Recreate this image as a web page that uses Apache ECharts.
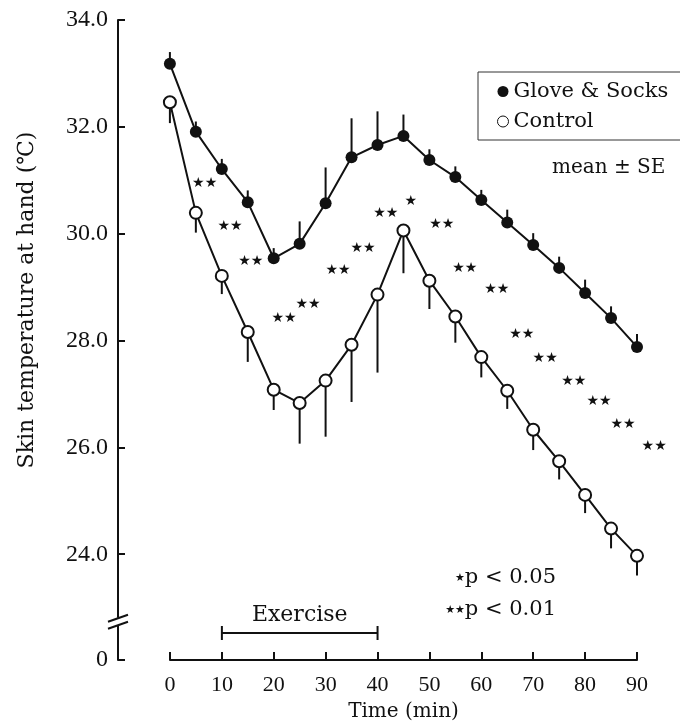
<!DOCTYPE html>
<html>
<head>
<meta charset="utf-8">
<script src="https://cdn.jsdelivr.net/npm/echarts@6.0.0/dist/echarts.min.js"></script>
<style>
html,body{margin:0;padding:0;background:#fff}
#main{width:680px;height:728px}
</style>
</head>
<body>
<div id="main"></div>
<script>
// time points (min)
var times = [0,5,10,15,20,25,30,35,40,45,50,55,60,65,70,75,80,85,90];
// skin temperature at hand, mean and SE
var glove   = [33.18,31.91,31.21,30.59,29.54,29.81,30.57,31.43,31.66,31.83,31.38,31.06,30.63,30.21,29.79,29.36,28.89,28.42,27.88];
var gloveSE = [0.22,0.19,0.19,0.22,0.19,0.42,0.67,0.73,0.63,0.40,0.20,0.20,0.19,0.24,0.22,0.21,0.25,0.22,0.24];
var control   = [32.46,30.39,29.21,28.16,27.08,26.83,27.25,27.92,28.86,30.06,29.12,28.45,27.69,27.06,26.33,25.74,25.11,24.48,23.97];
var controlSE = [0.39,0.37,0.34,0.56,0.38,0.76,1.05,1.07,1.46,0.80,0.53,0.49,0.38,0.34,0.38,0.34,0.34,0.37,0.37];
// significance marks (time, temperature, number of stars)
var starTime  = [6.7,11.6,15.6,22.0,26.6,32.4,37.2,41.6,46.4,52.4,56.8,63.0,67.8,72.3,77.8,82.7,87.3,93.3];
var starTemp  = [30.95,30.13,29.48,28.42,28.68,29.31,29.73,30.38,30.60,30.18,29.35,28.95,28.12,27.67,27.24,26.86,26.44,26.01];
var starCount = [2,2,2,2,2,2,2,2,1,2,2,2,2,2,2,2,2,2];
// exercise period (min)
var exercise = [10, 40];
// axes
var xMin = 0, xMax = 90, xStep = 10;
var yMin = 0, yMax = 34, yStep = 2;
var yTicks = [0, 24, 26, 28, 30, 32, 34];
var yBreak = [0.65, 22.8];

var serif = 'DejaVu Serif';
var numFont = 'Liberation Serif';
var ink = '#111';

function pairs(v) {
    return times.map(function (t, i) { return [t, v[i]]; });
}
function errData(v, se, dir) {
    return times.map(function (t, i) { return [t, v[i], v[i] + dir * se[i]]; });
}
function errBar(params, api) {
    var a = api.coord([api.value(0), api.value(1)]);
    var b = api.coord([api.value(0), api.value(2)]);
    return {type: 'line', shape: {x1: a[0], y1: a[1], x2: b[0], y2: b[1]},
        style: {stroke: ink, lineWidth: 2}};
}

var chart = echarts.init(document.getElementById('main'));

var option = {
    animation: false,
    backgroundColor: '#fff',
    grid: [
        {left: 118, right: 43, top: 20, bottom: 68},
        {left: 170, right: 43, top: 600, bottom: 68}
    ],
    legend: {
        orient: 'vertical',
        left: 478,
        top: 72,
        padding: [9, 24, 8, 19],
        itemGap: 9,
        itemWidth: 11,
        itemHeight: 11,
        borderColor: '#333',
        borderWidth: 1,
        textStyle: {fontFamily: serif, fontSize: 21, color: ink},
        data: [
            {name: 'Glove & Socks', icon: 'circle'},
            {name: 'Control', icon: 'circle',
                itemStyle: {color: '#fff', borderColor: ink, borderWidth: 1}}
        ]
    },
    xAxis: [
        {gridIndex: 0, type: 'value', min: -10, max: xMax, show: false},
        {
            gridIndex: 1, type: 'value', min: xMin, max: xMax, interval: xStep,
            axisLine: {onZero: false, lineStyle: {color: ink, width: 2}},
            axisTick: {inside: true, length: 8, lineStyle: {color: ink, width: 2}},
            splitLine: {show: false},
            axisLabel: {fontFamily: numFont, fontSize: 22, color: ink, margin: 14},
            name: 'Time (min)',
            nameLocation: 'middle',
            nameGap: 42,
            nameTextStyle: {fontFamily: serif, fontSize: 20, color: ink}
        }
    ],
    yAxis: [
        {
            gridIndex: 0, type: 'value', min: yMin, max: yMax, interval: yStep,
            breaks: [{start: yBreak[0], end: yBreak[1], gap: 0.13}],
            breakArea: {show: false},
            axisLine: {onZero: false, lineStyle: {color: ink, width: 2}},
            axisTick: {inside: true, length: 7, customValues: yTicks,
                lineStyle: {color: ink, width: 2}},
            splitLine: {show: false},
            axisLabel: {
                fontFamily: numFont, fontSize: 24, color: ink, margin: 10,
                customValues: yTicks,
                formatter: function (v) {
                    return v === 0 ? '0' : v.toFixed(1);
                }
            }
        },
        {gridIndex: 1, type: 'value', min: 0, max: 1, show: false}
    ],
    series: [
        {
            type: 'custom', name: 'gloveErr', xAxisIndex: 0, yAxisIndex: 0, z: 2,
            renderItem: errBar, data: errData(glove, gloveSE, 1)
        },
        {
            type: 'custom', name: 'controlErr', xAxisIndex: 0, yAxisIndex: 0, z: 2,
            renderItem: errBar, data: errData(control, controlSE, -1)
        },
        {
            name: 'Glove & Socks', type: 'line', xAxisIndex: 0, yAxisIndex: 0, z: 3,
            data: pairs(glove),
            symbol: 'circle', symbolSize: 12,
            itemStyle: {color: ink},
            lineStyle: {color: ink, width: 2}
        },
        {
            name: 'Control', type: 'line', xAxisIndex: 0, yAxisIndex: 0, z: 3,
            data: pairs(control),
            symbol: 'circle', symbolSize: 12,
            itemStyle: {color: '#fff', borderColor: ink, borderWidth: 2},
            lineStyle: {color: ink, width: 2}
        },
        {
            type: 'custom', name: 'stars', xAxisIndex: 0, yAxisIndex: 0, z: 4,
            data: starTime.map(function (t, i) { return [t, starTemp[i], starCount[i]]; }),
            renderItem: function (params, api) {
                var p = api.coord([api.value(0), api.value(1)]);
                var s = api.value(2) === 1 ? '★' : '★★';
                return {type: 'text', x: p[0], y: p[1],
                    style: {text: s, fill: ink, font: '14px "DejaVu Sans"',
                        align: 'center', verticalAlign: 'middle'}};
            }
        },
        {
            type: 'custom', name: 'exercise', xAxisIndex: 1, yAxisIndex: 1, z: 4,
            data: [exercise],
            renderItem: function (params, api) {
                var lvl = 0.45;
                var a = api.coord([api.value(0), lvl]);
                var b = api.coord([api.value(1), lvl]);
                var st = {stroke: ink, lineWidth: 2};
                return {type: 'group', children: [
                    {type: 'line', shape: {x1: a[0], y1: a[1], x2: b[0], y2: b[1]}, style: st},
                    {type: 'line', shape: {x1: a[0], y1: a[1] - 7, x2: a[0], y2: a[1] + 7}, style: st},
                    {type: 'line', shape: {x1: b[0], y1: b[1] - 7, x2: b[0], y2: b[1] + 7}, style: st},
                    {type: 'text', x: (a[0] + b[0]) / 2, y: a[1] - 18,
                        style: {text: 'Exercise', fill: ink, font: '22px "DejaVu Serif"',
                            align: 'center', verticalAlign: 'middle'}}
                ]};
            }
        }
    ],
    graphic: [
        {id: 'ytitle', type: 'text', x: 27, y: 300, rotation: Math.PI / 2,
            style: {text: 'Skin temperature at hand (℃)', fill: ink, font: '22px "DejaVu Serif"',
                align: 'center', verticalAlign: 'middle'}},
        {id: 'se', type: 'text', x: 552, y: 168,
            style: {text: 'mean ± SE', fill: ink, font: '20px "DejaVu Serif"',
                align: 'left', verticalAlign: 'middle'}},
        {id: 'p05', type: 'text', x: 556, y: 578,
            style: {text: '{s|★}{t|p < 0.05}', align: 'right', verticalAlign: 'middle',
                rich: {s: {fontFamily: 'DejaVu Sans', fontSize: 11, fill: ink},
                       t: {fontFamily: serif, fontSize: 21, fill: ink}}}},
        {id: 'p01', type: 'text', x: 556, y: 610,
            style: {text: '{s|★★}{t|p < 0.01}', align: 'right', verticalAlign: 'middle',
                rich: {s: {fontFamily: 'DejaVu Sans', fontSize: 11, fill: ink},
                       t: {fontFamily: serif, fontSize: 21, fill: ink}}}}
    ]
};
chart.setOption(option);

// axis break mark on the y axis line
var ax = chart.convertToPixel({xAxisIndex: 0}, -10);
var yHi = chart.convertToPixel({yAxisIndex: 0}, yBreak[1]);
var yLo = chart.convertToPixel({yAxisIndex: 0}, yBreak[0]);
var mid = (yHi + yLo) / 2;
chart.setOption({
    graphic: [
        {id: 'brkMask', type: 'rect', z: 100, shape: {x: ax - 3, y: mid - 4, width: 6, height: 8},
            style: {fill: '#fff'}},
        {id: 'brk1', type: 'line', z: 101, shape: {x1: ax - 10, y1: mid, x2: ax + 10, y2: mid - 7},
            style: {stroke: ink, lineWidth: 2}},
        {id: 'brk2', type: 'line', z: 101, shape: {x1: ax - 10, y1: mid + 7, x2: ax + 10, y2: mid},
            style: {stroke: ink, lineWidth: 2}}
    ]
});
</script>
</body>
</html>
